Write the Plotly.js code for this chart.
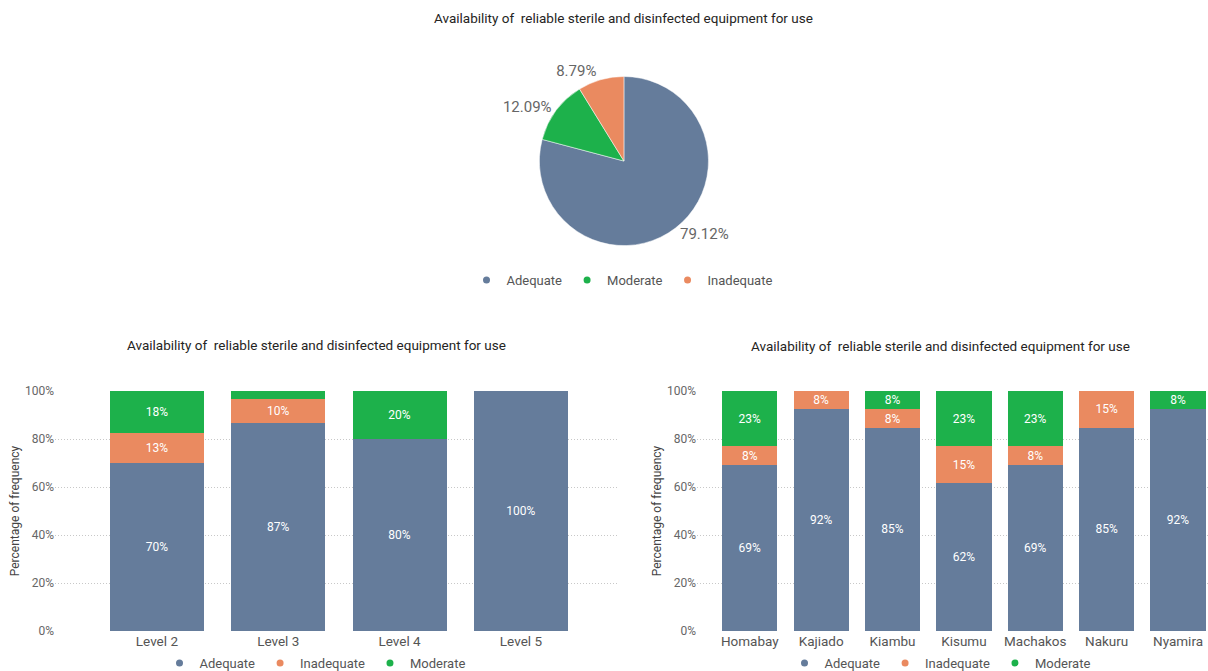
<!DOCTYPE html>
<html>
<head>
<meta charset="utf-8">
<script src="https://cdn.plot.ly/plotly-3.0.1.min.js"></script>
<style>html,body{margin:0;padding:0;background:#fff;}#chart{width:1208px;height:671px;}</style>
</head>
<body>
<div id="chart"></div>
<script>
// ---- Data ----
const chartTitle = "Availability of  reliable sterile and disinfected equipment for use";

const pieLabels = ["Adequate", "Moderate", "Inadequate"];
const pieValues = [79.12, 12.09, 8.79];

const levelCategories = ["Level 2", "Level 3", "Level 4", "Level 5"];
const levelAdequate   = [70, 86.67, 80, 100];
const levelInadequate = [12.5, 10, 0, 0];
const levelModerate   = [17.5, 3.33, 20, 0];

const countyCategories = ["Homabay", "Kajiado", "Kiambu", "Kisumu", "Machakos", "Nakuru", "Nyamira"];
const countyAdequate   = [69.23, 92.31, 84.62, 61.54, 69.23, 84.62, 92.31];
const countyInadequate = [7.69, 7.69, 7.69, 15.38, 7.69, 15.38, 0];
const countyModerate   = [23.08, 0, 7.69, 23.08, 23.08, 0, 7.69];

const yTickValues = [0, 20, 40, 60, 80, 100];
const yTickLabels = ["0%", "20%", "40%", "60%", "80%", "100%"];

const seriesNames = ["Adequate", "Inadequate", "Moderate"];
const colors = {Adequate: "#657c9b", Inadequate: "#ea8a60", Moderate: "#1db14b"};

// ---- Helpers ----
const FONT = "Roboto, 'Noto Sans', sans-serif";
const lbl = arr => arr.map(v => v >= 5 ? Math.round(v) + "%" : "");

function barTrace(name, x, y, xa, ya) {
  return {
    type: "bar", name: name, x: x, y: y, xaxis: xa, yaxis: ya,
    marker: {color: colors[name], line: {width: 0}},
    text: lbl(y), textposition: "inside", insidetextanchor: "middle",
    constraintext: "none",
    textfont: {color: "#ffffff", size: 12, family: FONT},
    hoverinfo: "x+y+name", showlegend: false
  };
}
function legendTrace(name, xa, ya, legend) {
  return {
    type: "scatter", mode: "markers", name: name, x: [null], y: [null],
    xaxis: xa, yaxis: ya, legend: legend,
    marker: {color: colors[name], size: 7, symbol: "circle"},
    showlegend: true, hoverinfo: "skip"
  };
}

const traces = [];

// Pie
traces.push({
  type: "pie", labels: pieLabels, values: pieValues, sort: false,
  direction: "clockwise", rotation: 0,
  marker: {colors: pieLabels.map(n => colors[n]), line: {color: "#ffffff", width: 0.5}},
  textinfo: "percent", texttemplate: "%{percent:.2%}", textposition: "outside",
  textfont: {color: "#666666", size: 15, family: FONT},
  domain: {x: [0.40, 0.633], y: [0.634, 0.886]},
  showlegend: false, hole: 0
});
// pie legend entries
pieLabels.forEach(n => traces.push(legendTrace(n, "x", "y", "legend")));

// Left bars
traces.push(barTrace("Adequate", levelCategories, levelAdequate, "x", "y"));
traces.push(barTrace("Inadequate", levelCategories, levelInadequate, "x", "y"));
traces.push(barTrace("Moderate", levelCategories, levelModerate, "x", "y"));
seriesNames.forEach(n => traces.push(legendTrace(n, "x", "y", "legend2")));

// Right bars
traces.push(barTrace("Adequate", countyCategories, countyAdequate, "x2", "y2"));
traces.push(barTrace("Inadequate", countyCategories, countyInadequate, "x2", "y2"));
traces.push(barTrace("Moderate", countyCategories, countyModerate, "x2", "y2"));
seriesNames.forEach(n => traces.push(legendTrace(n, "x2", "y2", "legend3")));

const yBase = {
  range: [0, 100], tickmode: "array", tickvals: yTickValues, ticktext: yTickLabels,
  showgrid: true, gridcolor: "#c8c8c8", griddash: "1px,2px", gridwidth: 1,
  zeroline: false, showline: false, ticks: "",
  tickfont: {color: "#666666", size: 12, family: FONT},
  title: {text: "Percentage of frequency", font: {color: "#444444", size: 12, family: FONT}, standoff: 2},
  fixedrange: true
};
const xBase = {
  type: "category", showgrid: false, zeroline: false, showline: false, ticks: "",
  tickfont: {color: "#555555", size: 13.5, family: FONT}, fixedrange: true
};
const legBase = {
  orientation: "h", xanchor: "center", yanchor: "middle", traceorder: "normal",
  font: {color: "#555555", size: 13, family: FONT},
  bgcolor: "rgba(0,0,0,0)", itemwidth: 30, itemclick: false
};

const layout = {
  width: 1208, height: 671,
  margin: {l: 0, r: 0, t: 0, b: 0, autoexpand: false},
  paper_bgcolor: "#ffffff", plot_bgcolor: "#ffffff",
  barmode: "stack", bargap: 0.225,
  font: {family: FONT},
  xaxis: Object.assign({}, xBase, {domain: [55/1208, 618/1208], range: [-0.84, 3.80], anchor: "y"}),
  yaxis: Object.assign({}, yBase, {domain: [40/671, 280/671], anchor: "x"}),
  xaxis2: Object.assign({}, xBase, {domain: [697/1208, 1], range: [-0.74, 6.42], anchor: "y2"}),
  yaxis2: Object.assign({}, yBase, {domain: [40/671, 280/671], anchor: "x2"}),
  legend: Object.assign({}, legBase, {x: 622/1208, y: 1 - 280/671}),
  legend2: Object.assign({}, legBase, {x: 315/1208, y: 1 - 663/671}),
  legend3: Object.assign({}, legBase, {x: 940/1208, y: 1 - 663/671}),
  annotations: [
    {text: chartTitle, x: 623/1208, y: 1 - 18/671},
    {text: chartTitle, x: 316/1208, y: 1 - 345/671},
    {text: chartTitle, x: 940/1208, y: 1 - 346/671}
  ].map(a => Object.assign(a, {
    xref: "paper", yref: "paper", xanchor: "center", yanchor: "middle", showarrow: false,
    font: {color: "#252423", size: 13.5, family: FONT}
  }))
};

Plotly.newPlot("chart", traces, layout, {displayModeBar: false, responsive: false});
</script>
</body>
</html>
